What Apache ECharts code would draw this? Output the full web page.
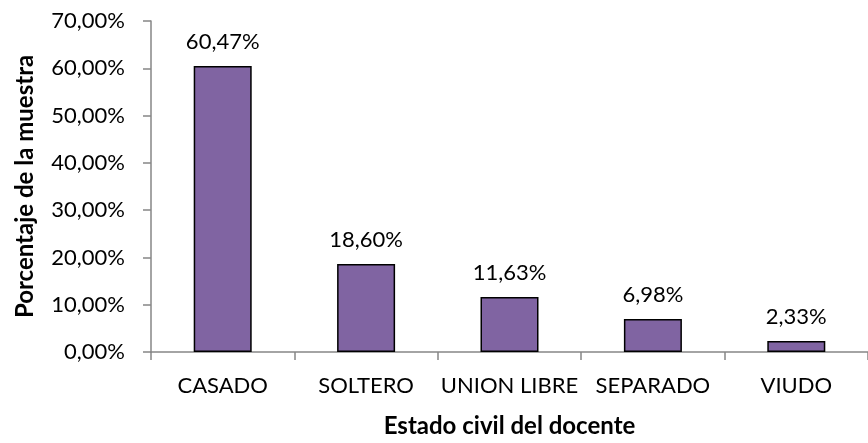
<!DOCTYPE html>
<html>
<head>
<meta charset="utf-8">
<style type="text/css">
html, body { margin: 0; padding: 0; background: #fff; }
#chart { width: 868px; height: 443px; }
</style>
<script type="text/javascript" src="https://cdn.jsdelivr.net/npm/echarts@6/dist/echarts.min.js"></script>
</head>
<body>
<div id="chart"></div>
<script type="text/javascript">
var categories = ['CASADO', 'SOLTERO', 'UNION LIBRE', 'SEPARADO', 'VIUDO'];
var values = [60.47, 18.60, 11.63, 6.98, 2.33];

var yTitle = 'Porcentaje de la muestra', xTitle = 'Estado civil del docente';
var font = 'Lato, "Open Sans", sans-serif';

// format like 60,47%
function pct(v, d) {
	return v.toFixed(d).replace('.', ',') + '%';
}

var chart = echarts.init(document.getElementById('chart'));
chart.setOption({
	animation: false,
	// plot runs past the right edge, as in the cropped original
	grid: { left: 151, top: 21, width: 726, height: 335 },
	textStyle: { fontFamily: font },
	xAxis: {
		type: 'category',
		data: categories,
		name: xTitle,
		nameLocation: 'middle',
		nameGap: 62,
		nameTextStyle: { color: '#000', fontSize: 24, fontWeight: 'bold', fontFamily: font },
		axisLine: { lineStyle: { color: '#868686', width: 1.5 } },
		axisTick: { show: true, length: 8, lineStyle: { color: '#868686', width: 1.5 } },
		axisLabel: { color: '#000', fontSize: 22, fontFamily: font, margin: 23, interval: 0 }
	},
	yAxis: {
		type: 'value',
		min: 0, max: 70, interval: 10,
		name: yTitle,
		nameLocation: 'middle',
		nameGap: 114,
		nameTextStyle: { color: '#000', fontSize: 24, fontWeight: 'bold', fontFamily: font },
		splitLine: { show: false },
		axisLine: { show: true, lineStyle: { color: '#868686', width: 1.5 } },
		axisTick: { show: true, length: 8, lineStyle: { color: '#868686', width: 1.5 } },
		axisLabel: {
			color: '#000', fontSize: 22, fontFamily: font, margin: 26,
			formatter: function (v) { return pct(v, 2); }
		}
	},
	series: [{
		type: 'bar',
		data: values,
		barWidth: 58,
		itemStyle: { color: '#8064A2', borderColor: '#000', borderWidth: 1.5 },
		label: {
			show: true, position: 'top', distance: 13,
			color: '#000', fontSize: 22, fontFamily: font,
			formatter: function (p) { return pct(p.value, 2); }
		}
	}]
});
</script>
</body>
</html>
